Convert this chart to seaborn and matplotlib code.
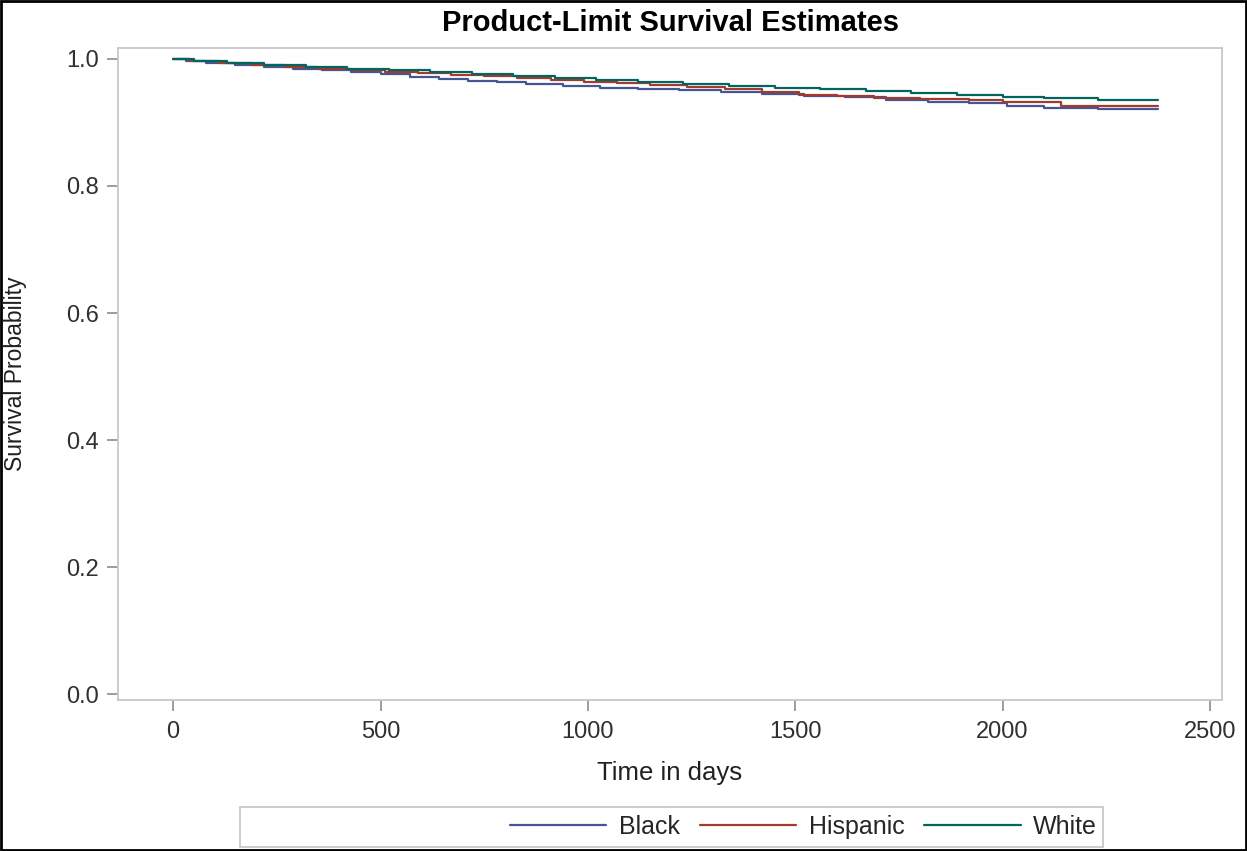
"""Product-Limit survival curves by group"""
import numpy as np
import pandas as pd
import matplotlib
matplotlib.use('Agg')
import matplotlib.pyplot as plt
from matplotlib.patches import Rectangle
from matplotlib.lines import Line2D
import seaborn as sns

# step times (days) and survival values
black_t = [0, 30, 80, 150, 220, 290, 360, 430, 500, 570, 640, 710, 780, 850,
           940, 1030, 1120, 1220, 1320, 1420, 1520, 1620, 1720, 1820, 1920,
           2010, 2100, 2230, 2375]
black_s = [1.0, 0.997, 0.994, 0.991, 0.988, 0.985, 0.982, 0.979, 0.976, 0.972,
           0.969, 0.966, 0.963, 0.960, 0.957, 0.955, 0.953, 0.951, 0.948, 0.945,
           0.942, 0.940, 0.936, 0.933, 0.930, 0.926, 0.923, 0.921, 0.921]

hisp_t = [0, 40, 110, 190, 270, 350, 430, 510, 590, 670, 750, 830, 910, 990,
          1070, 1150, 1240, 1330, 1420, 1510, 1600, 1690, 1800, 1920, 2000,
          2140, 2375]
hisp_s = [1.0, 0.997, 0.994, 0.991, 0.988, 0.985, 0.983, 0.980, 0.978, 0.975,
          0.973, 0.970, 0.967, 0.964, 0.962, 0.959, 0.956, 0.952, 0.948, 0.944,
          0.941, 0.938, 0.937, 0.935, 0.933, 0.926, 0.926]

white_t = [0, 50, 130, 220, 320, 420, 520, 620, 720, 820, 920, 1020, 1120,
           1230, 1340, 1450, 1560, 1670, 1780, 1890, 2000, 2100, 2230, 2375]
white_s = [1.0, 0.997, 0.994, 0.991, 0.988, 0.985, 0.982, 0.979, 0.976, 0.973,
           0.970, 0.967, 0.964, 0.961, 0.958, 0.955, 0.952, 0.949, 0.946, 0.943,
           0.940, 0.938, 0.936, 0.936]

groups = ['Black', 'Hispanic', 'White']
colors = ['#445694', '#A23A2E', '#01665E']

x_ticks = [0, 500, 1000, 1500, 2000, 2500]
y_ticks = [0.0, 0.2, 0.4, 0.6, 0.8, 1.0]

frames = []
for name, t, s in zip(groups, [black_t, hisp_t, white_t], [black_s, hisp_s, white_s]):
    frames.append(pd.DataFrame({'time': t, 'surv': s, 'group': name}))
df = pd.concat(frames, ignore_index=True)

sns.set_style('white')
plt.rcParams['font.family'] = ['Liberation Sans', 'DejaVu Sans']

fig = plt.figure(figsize=(12.47, 8.51), dpi=100)
ax = fig.add_axes([118 / 1247, 1 - 700 / 851, (1222 - 118) / 1247, (700 - 48) / 851])

sns.lineplot(data=df, x='time', y='surv', hue='group', palette=colors,
             hue_order=groups, estimator=None, drawstyle='steps-post',
             linewidth=1.6, legend=False, ax=ax)

ax.set_xlim(-133, 2529)
ax.set_ylim(-0.0094, 1.0173)
ax.set_xticks(x_ticks)
ax.set_xticklabels([str(v) for v in x_ticks])
ax.set_yticks(y_ticks)
ax.set_yticklabels([f'{v:.1f}' for v in y_ticks])

for sp in ax.spines.values():
    sp.set_color('#c8c8c8')
    sp.set_linewidth(1.3)
ax.tick_params(axis='both', direction='out', length=8, width=1.2, color='#8c8c8c',
               labelsize=17, labelcolor='#303030', bottom=True, left=True)
ax.tick_params(axis='x', pad=7)
ax.tick_params(axis='y', pad=6)

ax.set_xlabel('Time in days', fontsize=18.5, color='#202020')
ax.xaxis.set_label_coords(0.5, -0.093)
ax.set_ylabel('Survival Probability', fontsize=16.5, color='#202020')
ax.yaxis.set_label_coords(-0.082, 0.5)

fig.text(670 / 1247, 1 - 23 / 851, 'Product-Limit Survival Estimates',
         ha='center', va='center', fontsize=21, fontweight='bold', color='black')

# legend box
fig.add_artist(Rectangle((240 / 1247, 1 - 847 / 851), (1103 - 240) / 1247, 40 / 851,
                         transform=fig.transFigure, fill=False, edgecolor='#c8c8c8',
                         linewidth=1.3))
handles = [Line2D([], [], color=c, linewidth=1.6) for c in colors]
fig.legend(handles, groups, loc='center right', bbox_to_anchor=(1097 / 1247, 1 - 827 / 851),
           ncol=3, frameon=False, fontsize=18, handlelength=3.85, handletextpad=0.5,
           columnspacing=0.8, borderaxespad=0, borderpad=0)

# outer border
fig.add_artist(Rectangle((0.001, 0.001), 0.998, 0.998, transform=fig.transFigure,
                         fill=False, edgecolor='black', linewidth=2))

plt.savefig('out.png', dpi=100)
plt.close()
